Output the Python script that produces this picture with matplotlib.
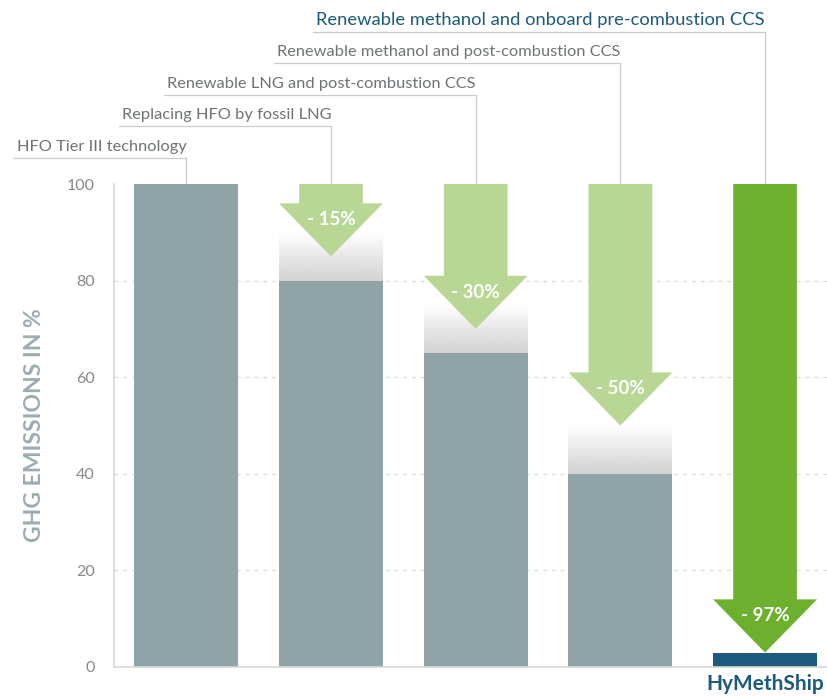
import numpy as np
import matplotlib
matplotlib.use("Agg")
import matplotlib.pyplot as plt
from matplotlib import font_manager as fm
from matplotlib.colors import to_rgb

# Data
scenarios = [
    "HFO Tier III technology",
    "Replacing HFO by fossil LNG",
    "Renewable LNG and post-combustion CCS",
    "Renewable methanol and post-combustion CCS",
    "Renewable methanol and onboard pre-combustion CCS",
]
emissions = [100, 80, 65, 40, 3]          # bar heights, % of HFO baseline
reductions = [None, 15, 30, 50, 97]       # arrow labels, %
yticks = [0, 20, 40, 60, 80, 100]

# Colours
GREY_BAR = "#8fa3a8"
BLUE_BAR = "#1e5a7c"
LIGHT_GREEN = "#b8d795"
DARK_GREEN = "#6cb02e"
TEXT_GREY = "#6e7376"
LINE_GREY = "#cbcbcb"
FONT = "Lato"


def lato(size, bold=False):
    if bold:
        for f in fm.fontManager.ttflist:
            if f.fname.endswith("Lato-Bold.ttf"):
                return fm.FontProperties(fname=f.fname, size=size)
        return fm.FontProperties(family=FONT, weight="heavy", size=size)
    return fm.FontProperties(family=FONT, size=size)


fig = plt.figure(figsize=(8.28, 6.97), dpi=100)
ax = fig.add_axes([114 / 828, 30 / 697, 714 / 828, 483 / 697])

x = np.arange(len(emissions))
bar_w = 0.718
shaft_w = 0.44
head_len = 11

# dashed guide lines
for t in yticks[1:-1]:
    ax.axhline(t, color="#dddddd", lw=0.9, ls=(0, (3, 4)), zorder=0)

colors = [GREY_BAR] * 4 + [BLUE_BAR]
ax.bar(x, emissions, width=bar_w, color=colors, zorder=2)

# soft grey fade above the reduced bars
fade = np.zeros((100, 1, 4))
fade[..., :3] = to_rgb("#d2d2d2")
fade[:, 0, 3] = np.linspace(1, 0, 100)
for xi, val in zip(x[1:4], emissions[1:4]):
    ax.imshow(fade, extent=(xi - bar_w / 2, xi + bar_w / 2, val, val + 10),
              origin="lower", aspect="auto", zorder=1.5, interpolation="bilinear")

# reduction arrows
for xi, red in zip(x, reductions):
    if red is None:
        continue
    tip = 100 - red
    col = DARK_GREEN if xi == x[-1] else LIGHT_GREEN
    ax.arrow(xi, 100, 0, -(100 - tip), width=shaft_w, head_width=bar_w,
             head_length=head_len, length_includes_head=True,
             fc=col, ec="none", zorder=3)
    ax.text(xi, tip + 7.6, f"- {red}%", ha="center", va="center",
            color="white", fontproperties=lato(13.5, bold=True), zorder=4)

ax.set_xlim(-0.5, 4.435)
ax.set_ylim(0, 100)

ax.set_yticks(yticks)
ax.tick_params(axis="y", length=0, pad=14, labelcolor="#85898b")
for lab in ax.get_yticklabels():
    lab.set_fontproperties(lato(11.5))
ax.set_xticks([x[-1]], ["HyMethShip"])
ax.tick_params(axis="x", length=0, pad=5)
for lab in ax.get_xticklabels():
    lab.set_fontproperties(lato(15, bold=True))
    lab.set_color(BLUE_BAR)

ax.set_ylabel("GHG EMISSIONS IN %", fontproperties=lato(16.5, bold=True),
              color="#9cadb2")
ax.yaxis.set_label_coords(-0.097, 0.5)

for side in ("top", "right"):
    ax.spines[side].set_visible(False)
for side in ("left", "bottom"):
    ax.spines[side].set_color("#d8d8d8")
    ax.spines[side].set_linewidth(1.2)
ax.set_facecolor("white")

# scenario labels with leader lines
texts = []
for i, (xi, name) in enumerate(zip(x, scenarios)):
    line_y = 105.4 + 6.52 * i
    last = i == len(scenarios) - 1
    t = ax.text(xi, line_y + 1.45, name, ha="right", va="baseline",
                fontproperties=lato(13.2 if last else 11.8),
                color=BLUE_BAR if last else TEXT_GREY, clip_on=False)
    texts.append((t, xi, line_y))

fig.canvas.draw()
renderer = fig.canvas.get_renderer()
inv = ax.transData.inverted()
for t, xi, line_y in texts:
    bb = t.get_window_extent(renderer)
    x0 = inv.transform((bb.x0 - 3, 0))[0]
    ax.plot([x0, xi, xi], [line_y, line_y, 100], color=LINE_GREY, lw=0.9,
            clip_on=False, zorder=1)

fig.savefig("out.png", dpi=100, facecolor="white")
